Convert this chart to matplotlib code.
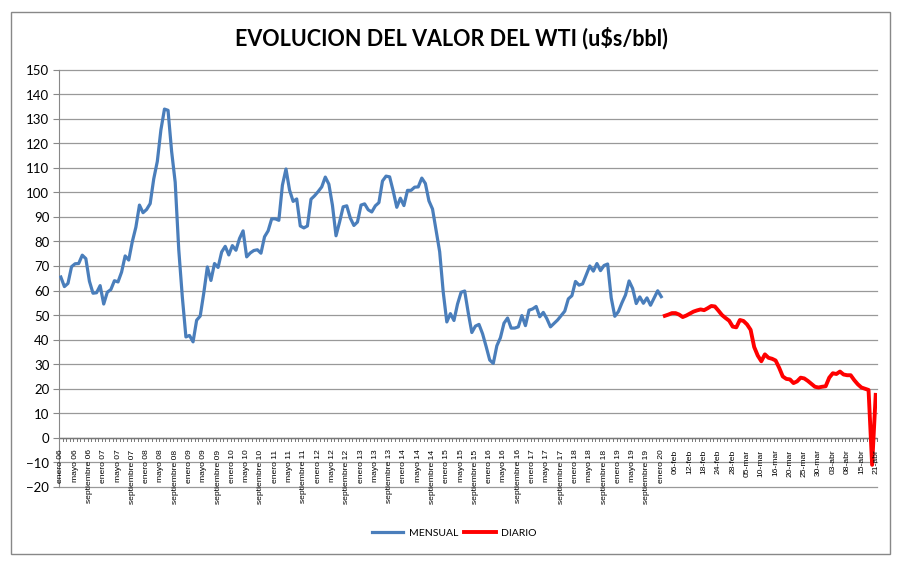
import matplotlib.pyplot as plt
from matplotlib.patches import Rectangle

# monthly averages, enero 2006 .. enero 2020 (u$s/bbl)
mensual = [
    65.5, 61.6, 62.9, 69.7, 70.9, 71.0, 74.4, 73.0, 63.8, 58.9, 59.1, 62.0,
    54.5, 59.3, 60.4, 64.0, 63.5, 67.5, 74.1, 72.4, 79.9, 85.8, 94.8, 91.7,
    93.0, 95.4, 105.5, 112.6, 125.4, 133.9, 133.4, 116.7, 104.1, 76.6, 57.3, 41.1,
    41.7, 39.1, 47.9, 49.6, 59.0, 69.6, 64.1, 71.0, 69.4, 75.7, 78.0, 74.5,
    78.3, 76.4, 81.2, 84.3, 73.7, 75.3, 76.3, 76.6, 75.2, 81.9, 84.3, 89.2,
    89.2, 88.6, 102.9, 109.5, 100.9, 96.3, 97.3, 86.3, 85.5, 86.3, 97.2, 98.6,
    100.3, 102.2, 106.2, 103.3, 94.7, 82.3, 87.9, 94.1, 94.5, 89.5, 86.5, 87.9,
    94.8, 95.3, 92.9, 92.0, 94.5, 95.8, 104.6, 106.6, 106.3, 100.5, 93.9, 97.6,
    94.6, 100.8, 100.8, 102.1, 102.2, 105.8, 103.6, 96.5, 93.2, 84.4, 75.8, 59.3,
    47.2, 50.6, 47.8, 54.5, 59.3, 59.8, 50.9, 42.9, 45.5, 46.2, 42.4, 37.2,
    31.7, 30.3, 37.5, 40.8, 46.7, 48.8, 44.7, 44.7, 45.2, 49.8, 45.7, 52.0,
    52.5, 53.5, 49.3, 51.1, 48.5, 45.2, 46.6, 48.0, 49.8, 51.6, 56.6, 57.9,
    63.7, 62.2, 62.7, 66.3, 70.0, 67.9, 71.0, 68.1, 70.2, 70.8, 57.0, 49.5,
    51.4, 55.0, 58.2, 63.9, 60.8, 54.7, 57.4, 54.8, 57.0, 54.0, 57.0, 59.9,
    57.5,
]
meses = ["enero", "febrero", "marzo", "abril", "mayo", "junio", "julio",
         "agosto", "septiembre", "octubre", "noviembre", "diciembre"]
mensual_labels = [f"{meses[i % 12]} {6 + i // 12:02d}" for i in range(len(mensual))]

# daily closes, 03 feb .. 21 abr 2020
diario_labels = [
    "03-feb", "04-feb", "05-feb", "06-feb", "07-feb", "10-feb", "11-feb", "12-feb",
    "13-feb", "14-feb", "17-feb", "18-feb", "19-feb", "20-feb", "21-feb", "24-feb",
    "25-feb", "26-feb", "27-feb", "28-feb", "02-mar", "03-mar", "04-mar", "05-mar",
    "06-mar", "08-mar", "09-mar", "10-mar", "11-mar", "12-mar", "13-mar", "16-mar",
    "17-mar", "18-mar", "19-mar", "20-mar", "22-mar", "23-mar", "24-mar", "25-mar",
    "26-mar", "27-mar", "29-mar", "30-mar", "31-mar", "01-abr", "02-abr", "03-abr",
    "05-abr", "06-abr", "07-abr", "08-abr", "09-abr", "13-abr", "14-abr", "15-abr",
    "16-abr", "17-abr", "20-abr", "21-abr",
]
diario = [
    49.7, 50.2, 50.8, 50.8, 50.2, 49.2, 49.8, 50.6, 51.4, 51.9, 52.3, 52.0,
    52.8, 53.7, 53.5, 51.8, 50.0, 48.8, 47.7, 45.3, 45.0, 48.0, 47.6, 46.2,
    44.0, 37.0, 33.5, 31.2, 34.0, 32.6, 32.2, 31.5, 28.5, 25.0, 24.0, 23.8,
    22.3, 23.0, 24.5, 24.2, 23.2, 22.0, 20.8, 20.5, 20.8, 21.0, 24.5, 26.3,
    26.0, 27.0, 25.8, 25.5, 25.5, 23.5, 21.8, 20.5, 20.0, 19.5, -11.0, 17.5,
]
y_ticks = list(range(-20, 151, 10))

labels = mensual_labels + diario_labels
n_m = len(mensual)
x_m = list(range(n_m))
x_d = list(range(n_m, n_m + len(diario)))
n_all = len(labels)

fig = plt.figure(figsize=(9.035, 5.625), dpi=100)
fig.patch.set_facecolor("white")
fig.patches.append(Rectangle((11 / 903, 1 - 554 / 562), 879 / 903, 542 / 562,
                             transform=fig.transFigure, fill=False,
                             edgecolor="#888888", linewidth=1.0))

ax = fig.add_axes([59 / 903, 1 - 487 / 562, 818 / 903, 417 / 562])
ax.set_facecolor("none")
ax.set_xlim(-0.5, n_all - 0.5)
ax.set_ylim(-20, 150)

# horizontal gridlines
for v in y_ticks:
    ax.plot([-0.5, n_all - 0.5], [v, v], color="#999999", linewidth=0.9,
            zorder=0.5, clip_on=False)

ax.plot(x_m, mensual, color="#4A7EBB", linewidth=2.3, label="MENSUAL",
        solid_joinstyle="round", zorder=3)
ax.plot(x_d, diario, color="#FF0000", linewidth=2.8, label="DIARIO",
        solid_joinstyle="round", zorder=3)

ax.set_xlim(-0.5, n_all - 0.5)
ax.set_ylim(-20, 150)
ax.set_yticks(y_ticks)
ax.tick_params(axis="y", labelsize=9.5, length=4, width=0.8, color="#888888", pad=3)
for t in ax.get_yticklabels():
    t.set_family("Lato")

for s in ["top", "right", "bottom"]:
    ax.spines[s].set_visible(False)
ax.spines["left"].set_color("#888888")

# category axis crosses at 0, labels every 4 categories
ax.plot([-0.5, n_all - 0.5], [0, 0], color="#777777", linewidth=1.0, zorder=1)
ax.set_xticks([])
for i in range(n_all + 1):
    ax.plot([i - 0.5, i - 0.5], [0, -1.2], color="#777777", linewidth=0.7,
            clip_on=False, zorder=1)
for i in range(0, n_all, 4):
    ax.text(i, -4.5, labels[i], rotation=90, ha="center", va="top",
            fontsize=6.1, family="Liberation Sans")

fig.text(0.5, 1 - 38 / 562, "EVOLUCION DEL VALOR DEL WTI (u$s/bbl)",
         ha="center", va="center", fontsize=15.5, fontweight="bold",
         family="Lato")

ax.legend(loc="center", bbox_to_anchor=(454 / 903, 1 - 533 / 562),
          bbox_transform=fig.transFigure, ncol=2, frameon=False,
          prop={"family": "Lato", "size": 7.5}, handlelength=3.0,
          handletextpad=0.5, columnspacing=0.6)

fig.savefig("out.png", dpi=100)
